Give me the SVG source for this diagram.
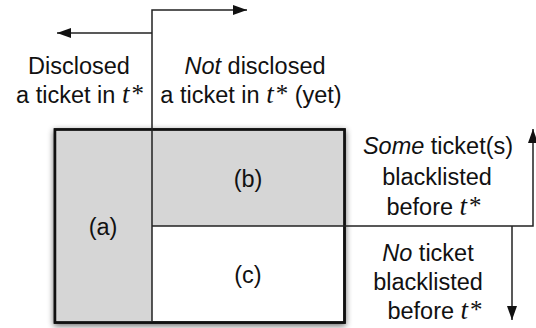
<svg xmlns="http://www.w3.org/2000/svg" width="536" height="328" viewBox="0 0 536 328">
<defs>
<style>
.t{font-family:"Liberation Sans",Arial,sans-serif;font-size:23.5px;fill:#111;text-anchor:middle}
.i{font-style:italic}
.m{font-family:"Liberation Serif","Times New Roman",serif;font-style:italic;font-size:27px}
.s{font-family:"Liberation Serif","Times New Roman",serif;font-size:25px}
.ln{stroke:#222;stroke-width:1.5;fill:none}
</style>
<marker id="ah" markerUnits="userSpaceOnUse" markerWidth="16" markerHeight="12" refX="14" refY="5" orient="auto">
<path d="M0,0 L14,5 L0,10 Z" fill="#111"/>
</marker>
<filter id="sh" x="-10%" y="-10%" width="120%" height="120%">
<feGaussianBlur in="SourceAlpha" stdDeviation="3"/>
<feOffset dx="0" dy="2" result="b"/>
<feComponentTransfer><feFuncA type="linear" slope="0.6"/></feComponentTransfer>
<feMerge><feMergeNode/><feMergeNode in="SourceGraphic"/></feMerge>
</filter>
</defs>
<rect width="536" height="328" fill="#fff"/>
<g id="box">
<rect x="55" y="129.5" width="289.5" height="193" fill="#fff" stroke="#111" stroke-width="2.5" filter="url(#sh)"/>
<rect x="56.2" y="130.7" width="95.8" height="190.6" fill="#d6d6d6"/>
<rect x="152" y="130.7" width="191.3" height="95.3" fill="#d6d6d6"/>
<rect x="55" y="129.5" width="289.5" height="193" fill="none" stroke="#111" stroke-width="2.5"/>
</g>
<g id="connectors">
<path class="ln" d="M152,322 V10 H247" marker-end="url(#ah)"/>
<path class="ln" d="M152,33 H57" marker-end="url(#ah)"/>
<path class="ln" d="M152,226 H533 V129" marker-end="url(#ah)"/>
<path class="ln" d="M512,226 V320" marker-end="url(#ah)"/>
</g>
<g id="region-a"><text class="t" x="103" y="235">(a)</text></g>
<g id="region-b"><text class="t" x="248" y="187">(b)</text></g>
<g id="region-c"><text class="t" x="248" y="283">(c)</text></g>
<g id="label-disclosed">
<text class="t" x="79" y="74">Disclosed</text>
<text class="t" x="80" y="103">a ticket in <tspan class="m">t</tspan><tspan class="s" dx="2" dy="-1">*</tspan></text>
</g>
<g id="label-not-disclosed">
<text class="t" x="255" y="74"><tspan class="i">Not</tspan> disclosed</text>
<text class="t" x="251" y="103">a ticket in <tspan class="m">t</tspan><tspan class="s" dx="2" dy="-1">*</tspan><tspan dy="1"> (yet)</tspan></text>
</g>
<g id="label-some">
<text class="t" x="438" y="154"><tspan class="i">Some</tspan> ticket(s)</text>
<text class="t" x="437" y="185">blacklisted</text>
<text class="t" x="434" y="215">before <tspan class="m">t</tspan><tspan class="s" dx="2" dy="-1">*</tspan></text>
</g>
<g id="label-no">
<text class="t" x="428" y="261"><tspan class="i">No</tspan> ticket</text>
<text class="t" x="428" y="290">blacklisted</text>
<text class="t" x="435" y="319">before <tspan class="m">t</tspan><tspan class="s" dx="2" dy="-1">*</tspan></text>
</g>
</svg>
